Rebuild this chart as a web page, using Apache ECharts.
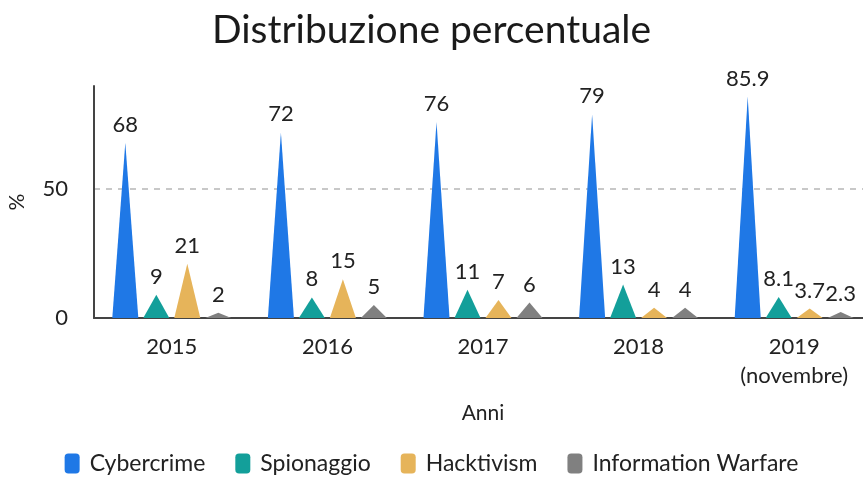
<!DOCTYPE html>
<html>
<head>
<meta charset="utf-8">
<script src="https://cdn.jsdelivr.net/npm/echarts@6/dist/echarts.min.js"></script>
<style>html,body{margin:0;padding:0;background:#fff}#c{width:863px;height:482px}</style>
</head>
<body>
<div id="c"></div>
<script>
const categories = ['2015', '2016', '2017', '2018', '2019\n(novembre)'];
const seriesNames = ['Cybercrime', 'Spionaggio', 'Hacktivism', 'Information Warfare'];
const cybercrime = [68, 72, 76, 79, 85.9];
const spionaggio = [9, 8, 11, 13, 8.1];
const hacktivism = [21, 15, 7, 4, 3.7];
const infoWarfare = [2, 5, 6, 4, 2.3];
const colors = ['#1f78e6', '#139f9a', '#e6b45a', '#808080'];
const yTicks = [0, 50];

const font = 'Lato, "Noto Sans", sans-serif';
const allData = [cybercrime, spionaggio, hacktivism, infoWarfare];

const chart = echarts.init(document.getElementById('c'));
chart.setOption({
  animation: false,
  title: {
    text: 'Distribuzione percentuale',
    left: 'center',
    top: 6,
    textStyle: { fontFamily: font, fontSize: 39, fontWeight: 'normal', color: '#1a1a1a' }
  },
  legend: {
    bottom: 2,
    left: 'center',
    itemWidth: 15,
    itemHeight: 20,
    itemGap: 30,
    icon: 'roundRect',
    textStyle: { fontFamily: font, fontSize: 23, color: '#222', padding: [0, 0, 0, 5] },
    data: seriesNames
  },
  grid: { left: 94, right: -9, top: 86, bottom: 164, containLabel: false, outerBoundsMode: 'none' },
  xAxis: {
    type: 'category',
    data: categories,
    name: 'Anni',
    nameLocation: 'middle',
    nameGap: 85,
    nameTextStyle: { fontFamily: font, fontSize: 21, color: '#222' },
    axisLine: { lineStyle: { color: '#444', width: 2 } },
    axisTick: { show: false },
    axisLabel: { fontFamily: font, fontSize: 22, color: '#222', margin: 14, lineHeight: 29 }
  },
  yAxis: {
    type: 'value',
    min: yTicks[0],
    max: 90,
    interval: yTicks[1] - yTicks[0],
    name: '%',
    nameLocation: 'middle',
    nameGap: 66,
    nameTextStyle: { fontFamily: font, fontSize: 21, color: '#222' },
    axisLine: { show: true, lineStyle: { color: '#444', width: 2 } },
    axisTick: { show: false },
    axisLabel: { fontFamily: font, fontSize: 22, color: '#222', margin: 26, showMaxLabel: false },
    splitLine: { show: true, lineStyle: { color: ['transparent', '#c8c8c8', 'transparent'], type: [6, 6], width: 2 } }
  },
  series: seriesNames.map((name, i) => ({
    name: name,
    type: 'pictorialBar',
    symbol: 'triangle',
    barCategoryGap: '23.5%',
    barGap: '19%',
    itemStyle: { color: colors[i] },
    label: {
      show: true,
      position: 'top',
      distance: 7,
      fontFamily: font,
      fontSize: 22,
      color: '#222'
    },
    data: allData[i]
  }))
});
</script>
</body>
</html>
